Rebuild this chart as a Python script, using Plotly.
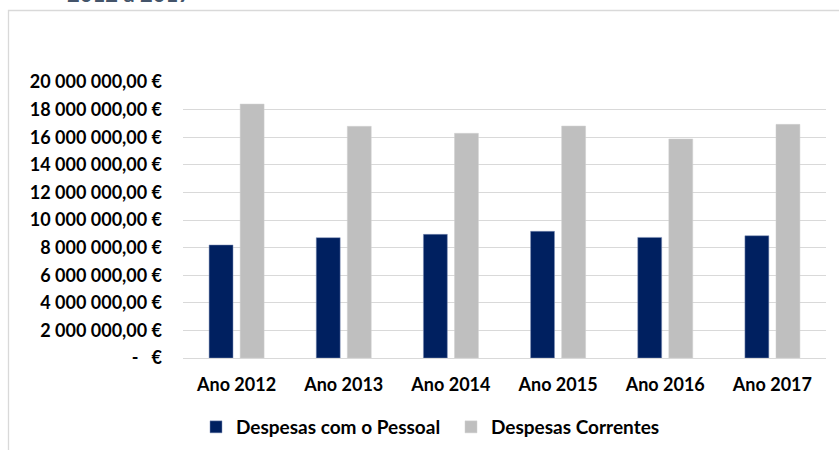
import plotly.graph_objects as go

categories = ["Ano 2012", "Ano 2013", "Ano 2014", "Ano 2015", "Ano 2016", "Ano 2017"]
despesas_pessoal = [8190000, 8720000, 8960000, 9180000, 8740000, 8860000]
despesas_correntes = [18400000, 16790000, 16280000, 16810000, 15870000, 16930000]
y_tick_values = [0, 2000000, 4000000, 6000000, 8000000, 10000000, 12000000, 14000000, 16000000, 18000000, 20000000]
y_tick_labels = ["-\u00a0\u00a0\u00a0€", "2 000 000,00 €", "4 000 000,00 €", "6 000 000,00 €", "8 000 000,00 €",
                 "10 000 000,00 €", "12 000 000,00 €", "14 000 000,00 €", "16 000 000,00 €",
                 "18 000 000,00 €", "20 000 000,00 €"]

FONT = "Lato, 'Open Sans', sans-serif"
W, H = 839, 450
L, R, T, B = 183, 13, 82, 92
pw, ph = W - L - R, H - T - B

def px_x(x):
    return (x - L) / pw

def px_y(y):
    return (H - B - y) / ph

fig = go.Figure()
fig.add_trace(go.Bar(name="Despesas com o Pessoal", x=categories, y=despesas_pessoal,
                     marker=dict(color="#002060", line=dict(color="#8093b8", width=0.5))))
fig.add_trace(go.Bar(name="Despesas Correntes", x=categories, y=despesas_correntes,
                     marker=dict(color="#BFBFBF", line=dict(color="#d0d0d0", width=0.5))))

fig.update_layout(
    width=W, height=H,
    margin=dict(l=L, r=R, t=T, b=B, autoexpand=False),
    paper_bgcolor="white", plot_bgcolor="white",
    barmode="group", bargap=0.42, bargroupgap=0.23,
    font=dict(family=FONT, size=18, color="#000000"),
    showlegend=True,
    legend=dict(orientation="h", xref="container", x=196 / W, xanchor="left",
                yref="container", y=1 - 408 / H, yanchor="top",
                font=dict(family=FONT, size=19, color="#000000", weight="bold"),
                entrywidth=210, entrywidthmode="pixels", bgcolor="rgba(0,0,0,0)"),
    xaxis=dict(showgrid=False, showline=False, ticks="", ticklabelstandoff=14, automargin=False,
               tickfont=dict(family=FONT, size=18, color="#000000", weight="bold"),
               fixedrange=True),
    yaxis=dict(range=[0, 20000000], tickvals=y_tick_values, ticktext=y_tick_labels,
               showgrid=True, gridcolor="#d9d9d9", gridwidth=1.3, zeroline=True,
               zerolinecolor="#d9d9d9", zerolinewidth=1.3, showline=False, ticks="",
               ticklabelstandoff=20, automargin=False,
               tickfont=dict(family=FONT, size=18, color="#000000", weight="bold")),
    shapes=[dict(type="rect", xref="paper", yref="paper",
                 x0=px_x(8.5), x1=px_x(900), y0=px_y(500), y1=px_y(10.5),
                 line=dict(color="#d9d9d9", width=1.3), fillcolor="rgba(0,0,0,0)", layer="below")],
    annotations=[dict(text="2012 a 2017", xref="paper", yref="paper", x=px_x(65), y=px_y(9),
                      xanchor="left", yanchor="bottom", showarrow=False,
                      font=dict(family=FONT, size=22, color="#44546A", weight="bold"))],
)

fig.write_html("out.html", config={"displayModeBar": False},
               post_script="document.body.style.margin='0';document.body.style.overflow='hidden';")
